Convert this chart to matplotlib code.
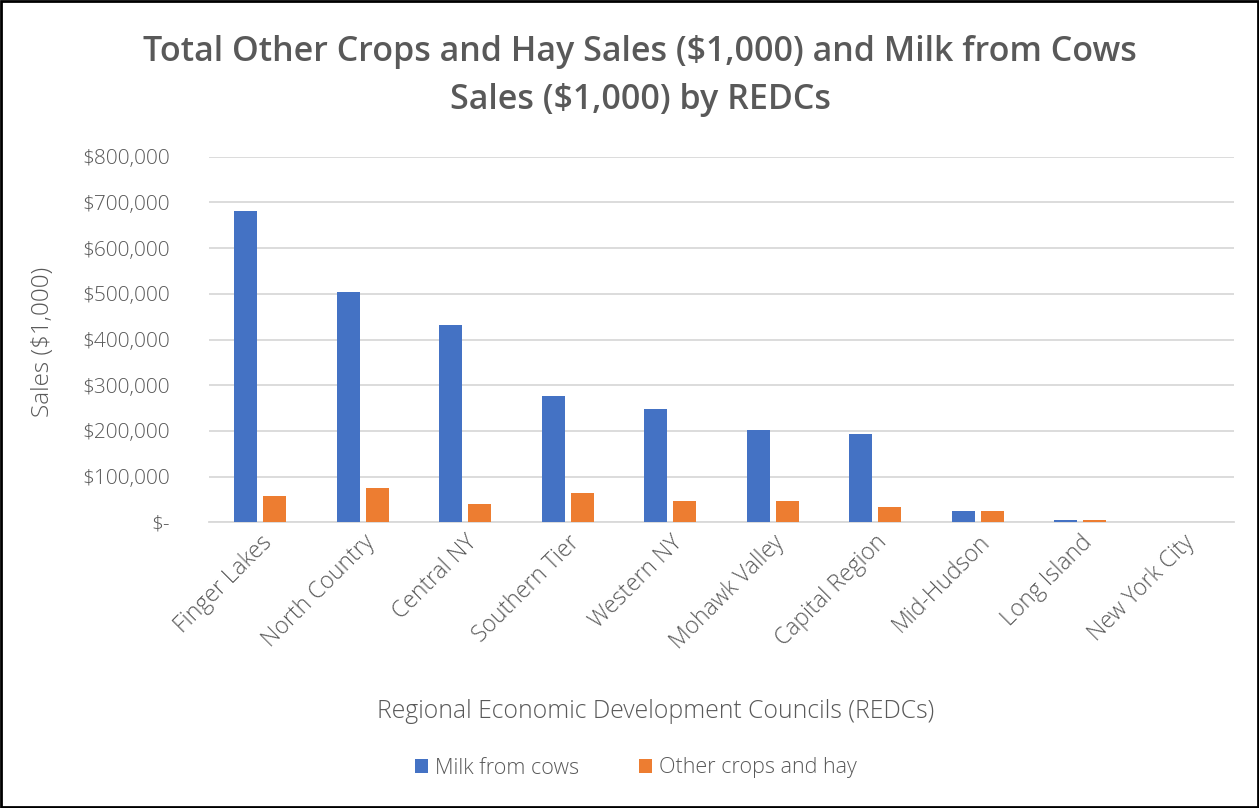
import numpy as np
import matplotlib.pyplot as plt
from matplotlib.patches import Rectangle

# --------------------------------
# Data (sales in $1,000)
# --------------------------------
regions = ["Finger Lakes", "North Country", "Central NY", "Southern Tier", "Western NY",
           "Mohawk Valley", "Capital Region", "Mid-Hudson", "Long Island", "New York City"]
milk = [682000, 504000, 431000, 276000, 248000, 203000, 193000, 24000, 5700, 0]
other_crops = [57000, 75000, 40000, 65000, 46500, 46500, 33000, 24000, 6000, 0]
yticks = [0, 100000, 200000, 300000, 400000, 500000, 600000, 700000, 800000]

blue = "#4472C4"
orange = "#ED7D31"
grey = "#595959"

plt.rcParams["font.family"] = ["Open Sans", "DejaVu Sans"]

fig = plt.figure(figsize=(12.59, 8.08), dpi=100)
ax = fig.add_axes([209 / 1259, 1 - 522.3 / 808, 1025 / 1259, 365.6 / 808])

x = np.arange(len(regions))
w = 0.224
off = 0.141
ax.bar(x - off, milk, width=w, color=blue, label="Milk from cows", zorder=3)
ax.bar(x + off, other_crops, width=w, color=orange, label="Other crops and hay", zorder=3)

ax.set_xlim(-0.5, len(regions) - 0.5)
ax.set_ylim(0, 800000)
ax.set_yticks(yticks)
ax.set_yticklabels(["$-" if v == 0 else f"${v:,.0f}" for v in yticks])
ax.yaxis.grid(True, color="#D9D9D9", linewidth=1.3, zorder=0)
ax.tick_params(axis="y", length=0, pad=28, labelsize=15)
ax.tick_params(axis="x", length=0, labelsize=16.5, pad=6)
ax.set_xticks(x)
ax.set_xticklabels(regions, rotation=45, ha="right", rotation_mode="anchor")
for lab in ax.get_xticklabels() + ax.get_yticklabels():
    lab.set_color(grey)
    lab.set_fontweight("light")
for s in ["top", "right", "left"]:
    ax.spines[s].set_visible(False)
ax.spines["bottom"].set_color("#D9D9D9")
ax.spines["bottom"].set_linewidth(1.3)

fig.text(43 / 1259, 1 - 341.5 / 808, "Sales ($1,000)", rotation=90, ha="center", va="center",
         fontsize=17.5, color=grey, fontweight="light")
fig.text(656 / 1259, 1 - 712 / 808, "Regional Economic Development Councils (REDCs)",
         ha="center", va="center", fontsize=17.8, color=grey, fontweight="light")

fig.text(640 / 1259, 1 - 76 / 808,
         "Total Other Crops and Hay Sales ($1,000) and Milk from Cows\nSales ($1,000) by REDCs",
         ha="center", va="center", fontsize=24.5, color=grey, fontweight="semibold",
         linespacing=1.55)

leg = fig.legend(loc="center", bbox_to_anchor=(636 / 1259, 1 - 768 / 808), ncol=2, frameon=False,
                 fontsize=15.5, handlelength=0.6, handleheight=0.6,
                 handletextpad=0.3, columnspacing=2.8)
for t in leg.get_texts():
    t.set_color(grey)
    t.set_fontweight("light")

# outer border
fig.add_artist(Rectangle((0.001, 0.001), 0.998, 0.998, transform=fig.transFigure,
                         fill=False, edgecolor="black", linewidth=2))

plt.savefig("out.png", dpi=100)
